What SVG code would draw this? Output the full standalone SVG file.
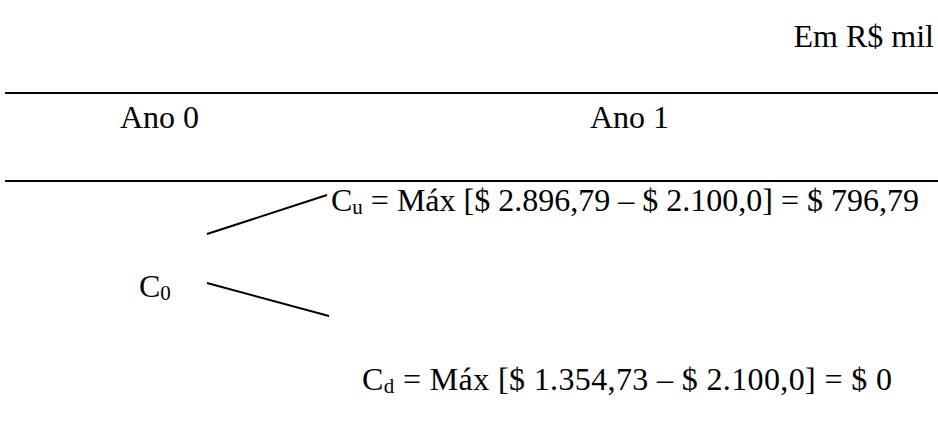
<svg xmlns="http://www.w3.org/2000/svg" width="938" height="438" viewBox="0 0 938 438">
<style>
text{font-family:"Liberation Serif","Times New Roman",serif;font-size:32px;fill:#000}
.sub{font-size:21px}
.rule{stroke:#000;stroke-width:2}
.br{stroke:#000;stroke-width:2;fill:none}
</style>
<rect width="938" height="438" fill="#fff"/>
<g id="header">
<text x="934" y="47" text-anchor="end">Em R$ mil</text>
<line class="rule" x1="5" y1="93" x2="938" y2="93"/>
<text x="120" y="128">Ano 0</text>
<text x="590" y="128">Ano 1</text>
<line class="rule" x1="5" y1="181" x2="938" y2="181"/>
</g>
<g id="connectors">
<line class="br" x1="207" y1="234" x2="327" y2="195"/>
<line class="br" x1="207" y1="283" x2="329" y2="316"/>
</g>
<g id="node-c0">
<text x="139" y="297">C<tspan class="sub" dy="3">0</tspan></text>
</g>
<g id="node-cu">
<text x="331" y="211" textLength="588" lengthAdjust="spacing">C<tspan class="sub" dy="3">u</tspan><tspan dy="-3"> = Máx [$ 2.896,79 – $ 2.100,0] = $ 796,79</tspan></text>
</g>
<g id="node-cd">
<text x="362" y="390" textLength="530" lengthAdjust="spacing">C<tspan class="sub" dy="3">d</tspan><tspan dy="-3"> = Máx [$ 1.354,73 – $ 2.100,0] = $ 0</tspan></text>
</g>
</svg>
